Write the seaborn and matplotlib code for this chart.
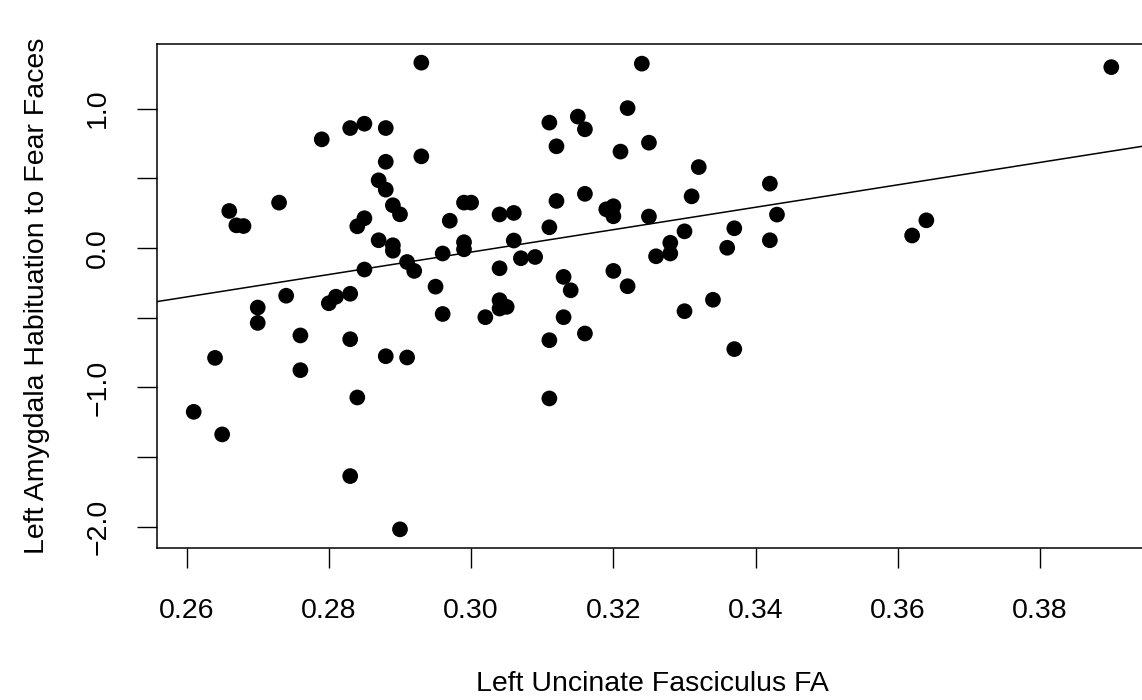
import numpy as np
import pandas as pd
import matplotlib
matplotlib.use("Agg")
import matplotlib.pyplot as plt
import seaborn as sns

# values
uf_fa = [
    0.293, 0.324, 0.390, 0.322, 0.315, 0.311, 0.285, 0.283, 0.288, 0.316,
    0.279, 0.325, 0.312, 0.321, 0.293, 0.288, 0.332, 0.287, 0.342, 0.288,
    0.316, 0.331, 0.312, 0.273, 0.299, 0.300, 0.289, 0.319, 0.320, 0.320,
    0.266, 0.306, 0.304, 0.290, 0.343, 0.325, 0.285, 0.364, 0.297, 0.267,
    0.268, 0.284, 0.311, 0.337, 0.330, 0.362, 0.287, 0.306, 0.342, 0.299,
    0.299, 0.328, 0.289, 0.336, 0.289, 0.296, 0.328, 0.326, 0.309, 0.307,
    0.291, 0.304, 0.285, 0.292, 0.320, 0.313, 0.322, 0.295, 0.314, 0.283,
    0.274, 0.281, 0.280, 0.334, 0.304, 0.305, 0.304, 0.270, 0.330, 0.296,
    0.302, 0.313, 0.270, 0.276, 0.316, 0.311, 0.283, 0.337, 0.264, 0.288,
    0.291, 0.276, 0.284, 0.311, 0.261, 0.265, 0.283, 0.290,
]
amyg_hab = [
    1.330, 1.323, 1.298, 1.004, 0.943, 0.900, 0.892, 0.861, 0.861, 0.852,
    0.780, 0.756, 0.730, 0.692, 0.658, 0.619, 0.581, 0.486, 0.462, 0.419,
    0.389, 0.371, 0.338, 0.326, 0.326, 0.326, 0.307, 0.278, 0.300, 0.228,
    0.266, 0.252, 0.241, 0.242, 0.240, 0.226, 0.214, 0.199, 0.196, 0.163,
    0.158, 0.156, 0.149, 0.142, 0.120, 0.090, 0.056, 0.054, 0.056, 0.042,
    -0.009, 0.038, 0.020, 0.002, -0.019, -0.039, -0.039, -0.059, -0.064, -0.073,
    -0.100, -0.145, -0.154, -0.164, -0.164, -0.207, -0.274, -0.277, -0.303, -0.328,
    -0.342, -0.349, -0.396, -0.371, -0.374, -0.422, -0.434, -0.427, -0.453, -0.473,
    -0.496, -0.496, -0.537, -0.627, -0.613, -0.661, -0.654, -0.725, -0.788, -0.776,
    -0.785, -0.876, -1.072, -1.079, -1.175, -1.337, -1.636, -2.018,
]
x_ticks = [0.26, 0.28, 0.30, 0.32, 0.34, 0.36, 0.38]
x_tick_labels = ["0.26", "0.28", "0.30", "0.32", "0.34", "0.36", "0.38"]
y_ticks = [-2.0, -1.5, -1.0, -0.5, 0.0, 0.5, 1.0]
y_tick_labels = ["\u22122.0", "", "\u22121.0", "", "0.0", "", "1.0"]

df = pd.DataFrame({"fa": uf_fa, "hab": amyg_hab})

sns.set_style("white")
plt.rcParams["font.family"] = ["Liberation Sans", "DejaVu Sans"]
plt.rcParams["text.color"] = "black"
plt.rcParams["axes.labelcolor"] = "black"

fig = plt.figure(figsize=(11.42, 7.0), dpi=100)
ax = fig.add_axes([157 / 1142, 1 - 548 / 700, (1148 - 157) / 1142, 504 / 700])

# R-style 4% padding around the data range
xr = max(uf_fa) - min(uf_fa)
yr = max(amyg_hab) - min(amyg_hab)
xlim = (min(uf_fa) - 0.04 * xr, max(uf_fa) + 0.04 * xr)
ylim = (min(amyg_hab) - 0.04 * yr, max(amyg_hab) + 0.04 * yr)
ax.set_xlim(xlim)
ax.set_ylim(ylim)

sns.scatterplot(data=df, x="fa", y="hab", ax=ax, color="black", s=128,
                edgecolor="none", linewidth=0, zorder=3)
sns.regplot(data=df, x="fa", y="hab", ax=ax, scatter=False, ci=None,
            truncate=False, color="black", line_kws={"linewidth": 1.1})
ax.set_xlim(xlim)
ax.set_ylim(ylim)

ax.set_xticks(x_ticks)
ax.set_xticklabels(x_tick_labels)
ax.set_yticks(y_ticks)
ax.set_yticklabels(y_tick_labels, rotation=90, va="center")
ax.tick_params(axis="both", direction="out", length=14.4, width=1.0,
               labelsize=20.5, color="black", labelcolor="black",
               bottom=True, left=True)
ax.tick_params(axis="x", pad=21.5)
ax.tick_params(axis="y", pad=18.5)

for sp in ax.spines.values():
    sp.set_visible(True)
    sp.set_color("black")
    sp.set_linewidth(1.1)

ax.set_xlabel("Left Uncinate Fasciculus FA", fontsize=20.5, color="black")
ax.set_ylabel("Left Amygdala Habituation to Fear Faces", fontsize=20.5,
              color="black")
ax.xaxis.set_label_coords(0.5, -0.245)
ax.yaxis.set_label_coords(-0.108, 0.5)
ax.xaxis.label.set_va("top")

fig.savefig("out.png", dpi=100, facecolor="white")
